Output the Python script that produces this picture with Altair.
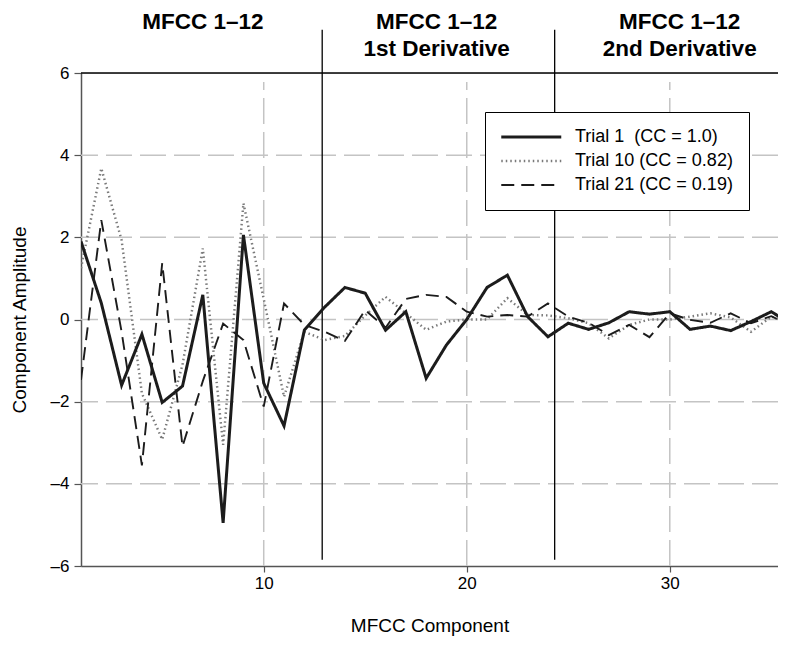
import altair as alt
import pandas as pd

# ---- data ----
components = list(range(1, 37))
trial1 = [1.9, 0.4, -1.6, -0.36, -2.02, -1.62, 0.6, -4.95, 2.06, -1.55, -2.59, -0.26,
          0.3, 0.78, 0.64, -0.26, 0.19, -1.43, -0.62, 0.0, 0.78, 1.08, 0.07, -0.42,
          -0.09, -0.24, -0.08, 0.19, 0.13, 0.19, -0.24, -0.16, -0.27, -0.05, 0.19, -0.12]
trial10 = [1.25, 3.68, 1.93, -1.8, -2.92, -1.1, 1.73, -3.05, 2.83, 0.5, -1.88, -0.3,
           -0.5, -0.4, 0.1, 0.55, 0.15, -0.25, -0.05, 0.0, 0.0, 0.52, 0.11, 0.1,
           0.03, -0.09, -0.46, -0.13, 0.0, 0.0, 0.07, 0.15, 0.05, -0.3, 0.07, -0.1]
trial21 = [-1.47, 2.42, -0.3, -3.55, 1.37, -3.09, -1.5, -0.1, -0.5, -2.12, 0.39, -0.13,
           -0.3, -0.52, 0.23, -0.2, 0.5, 0.6, 0.55, 0.19, 0.07, 0.11, 0.07, 0.39,
           0.07, -0.08, -0.38, -0.13, -0.43, 0.15, -0.01, -0.08, 0.15, -0.09, 0.08, -0.15]
series_names = ["Trial 1\u00a0 (CC = 1.0)", "Trial 10 (CC = 0.82)", "Trial 21 (CC = 0.19)"]

y_ticks = [-6, -4, -2, 0, 2, 4, 6]
y_grid = [-4, -2, 0, 2, 4]
x_ticks = [10, 20, 30]
separators = [12.88, 24.33]
heading_centers = [7.0, 18.52, 30.49]
heading_texts = ["MFCC 1\u201312", "MFCC 1\u201312\n1st Derivative", "MFCC 1\u201312\n2nd Derivative"]

FONT = "Liberation Sans"

# ---- tables ----
rows = []
for name, vals in [(series_names[1], trial10), (series_names[2], trial21), (series_names[0], trial1)]:
    for c, v in zip(components, vals):
        rows.append({"component": c, "amplitude": v, "series": name})
df = pd.DataFrame(rows)

x_scale = alt.Scale(domain=[1, 35.33], nice=False, zero=False)
y_scale = alt.Scale(domain=[-6, 6], nice=False, zero=False)

x_axis = alt.Axis(values=x_ticks, grid=False, tickSize=6, tickColor="#555", domainColor="#555",
                  domainWidth=1.5, tickWidth=1.2, labelFontSize=17, labelPadding=3, labelColor="black",
                  labelFont=FONT, title="MFCC Component", titleFontSize=19, titleFontWeight="normal",
                  titleFont=FONT, titleColor="black", titleY=59, titleBaseline="middle")
y_axis = alt.Axis(values=y_ticks, grid=False, tickSize=7, tickColor="#555", domainColor="#555",
                  domainWidth=1.5, tickWidth=1.2, labelFontSize=17, labelPadding=5, labelColor="black",
                  labelFont=FONT,
                  labelExpr="datum.value < 0 ? '\u2013' + (-datum.value) : datum.label",
                  title="Component Amplitude", titleFontSize=19, titleFontWeight="normal",
                  titleFont=FONT, titleColor="black", titleAngle=270, titleX=-62, titleY=246.5,
                  titleBaseline="middle", titleAlign="center")

X = lambda f: alt.X(f, scale=x_scale, axis=x_axis)
Y = lambda f: alt.Y(f, scale=y_scale, axis=y_axis)

hgrid = alt.Chart(pd.DataFrame({"v": y_grid})).mark_rule(
    color="#c4c4c4", strokeWidth=1.5, strokeDash=[26, 8]).encode(y=Y("v:Q"))

vgrid = alt.Chart(pd.DataFrame({"x": x_ticks, "lo": [-6] * 3, "hi": [5.78] * 3})).mark_rule(
    color="#c4c4c4", strokeWidth=1.5, strokeDash=[26, 8]).encode(x=X("x:Q"), y=Y("lo:Q"), y2="hi:Q")

topline = alt.Chart(pd.DataFrame({"v": [6]})).mark_rule(color="black", strokeWidth=1.5).encode(y=Y("v:Q"))

seps = alt.Chart(pd.DataFrame({"x": separators, "lo": [-5.85] * 2, "hi": [7.05] * 2})).mark_rule(
    color="black", strokeWidth=1.3).encode(x=X("x:Q"), y=Y("lo:Q"), y2="hi:Q")

legend = alt.Legend(title=None, orient="none", legendX=404, legendY=39,
                    symbolType="M-2.33,0H13.67", symbolSize=56.25,
                    labelFontSize=18, labelFont=FONT, labelColor="black",
                    labelOffset=56, strokeColor="black", fillColor="white", padding=16,
                    rowPadding=6,
                    labelExpr="datum.label + '\u00a0\u00a0\u00a0\u00a0\u00a0'")

lines = alt.Chart(df).mark_line(clip=True).encode(
    x=X("component:Q"),
    y=Y("amplitude:Q"),
    color=alt.Color("series:N", scale=alt.Scale(domain=series_names,
                                               range=["#1c1c1c", "#7a7a7a", "#1c1c1c"]), legend=legend),
    strokeDash=alt.StrokeDash("series:N", scale=alt.Scale(domain=series_names,
                                                         range=[[1, 0], [1.5, 3], [13, 7]]), legend=legend),
    strokeWidth=alt.StrokeWidth("series:N", scale=alt.Scale(domain=series_names,
                                                           range=[3.0, 1.9, 3.5]), legend=legend),
)

headings = alt.Chart(pd.DataFrame({"x": heading_centers, "t": heading_texts})).mark_text(
    font=FONT, fontSize=22.5, fontWeight="bold", color="black", baseline="alphabetic",
    align="center", lineBreak="\n", lineHeight=27).encode(x=X("x:Q"), y=alt.value(-44), text="t:N")

chart = alt.layer(hgrid, vgrid, topline, seps, lines, headings).properties(
    width=697, height=493,
    autosize=alt.AutoSizeParams(type="none"),
    padding={"left": 73, "top": 65, "right": 0, "bottom": 72},
).configure_view(stroke=None).configure_legend(strokeWidth=1.5).configure(font=FONT)

chart.save("out.html", embed_options={"renderer": "svg", "actions": False})
